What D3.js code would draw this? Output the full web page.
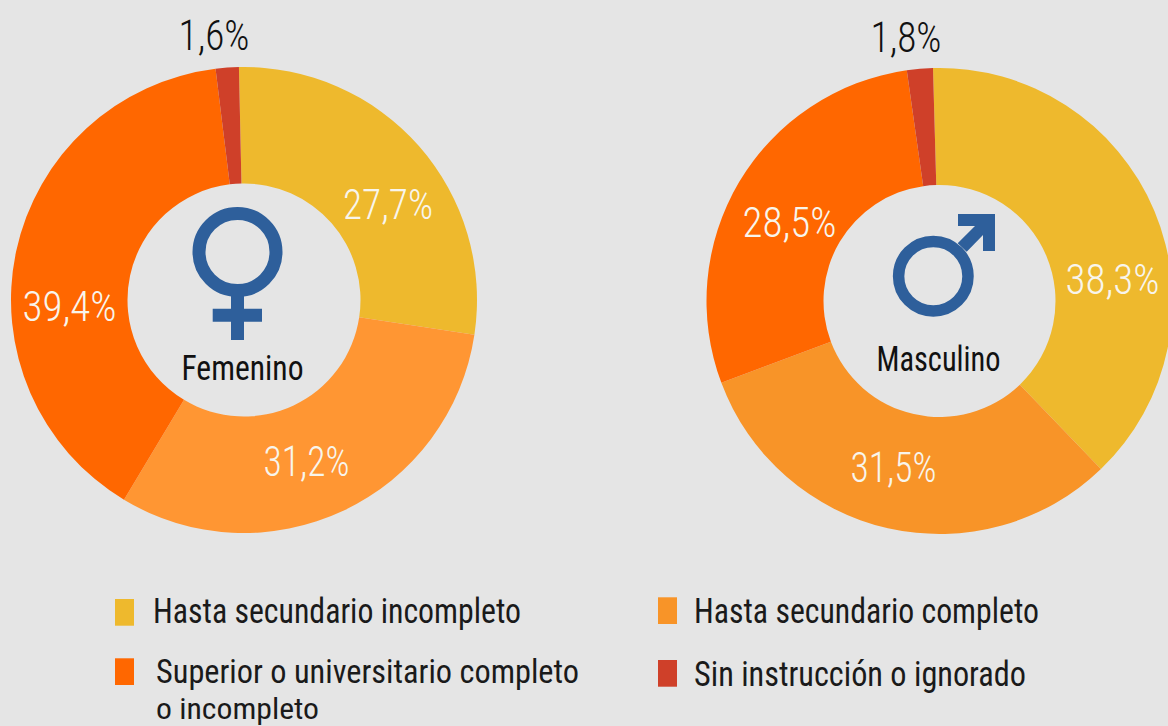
<!DOCTYPE html>
<html><head><meta charset="utf-8"><style>html,body{margin:0;padding:0;background:#e5e5e5;overflow:hidden}svg{display:block}</style>
<script src="https://d3js.org/d3.v7.min.js"></script></head><body><svg id="c" width="1168" height="726"></svg>
<script>
const categories=["Hasta secundario incompleto","Hasta secundario completo","Superior o universitario completo","o incompleto","Sin instrucción o ignorado"];
const femenino=[27.7,31.2,39.4,1.6];
const masculino=[38.3,31.5,28.5,1.8];
const femLabels=["27,7%","31,2%","39,4%","1,6%"];
const masLabels=["38,3%","31,5%","28,5%","1,8%"];
const femColors=["#eeb92d","#ff9633","#ff6700","#cf4029"];
const masColors=["#eeb92d","#f89428","#ff6700","#cf4029"];
const font="'Roboto Condensed','Liberation Sans Narrow','Open Sans',Roboto,sans-serif";
const svg=d3.select("#c");
svg.append("rect").attr("width",1168).attr("height",726).attr("fill","#e5e5e5");
function txt(t,x,y,w,size,weight,fill){
 svg.append("text").attr("x",x).attr("y",y).attr("font-family",font).attr("font-size",size).attr("font-weight",weight)
  .attr("textLength",w).attr("lengthAdjust","spacingAndGlyphs").attr("fill",fill).text(t);
}
function donut(cx,cy,R,r,rot,vals,cols,labs,pos){
 const g=svg.append("g").attr("transform",`translate(${cx},${cy})`);
 const a0=rot*Math.PI/180;
 const pie=d3.pie().sort(null).startAngle(a0).endAngle(a0+2*Math.PI)(vals);
 const arc=d3.arc().innerRadius(r).outerRadius(R);
 g.selectAll("path").data(pie).join("path").attr("d",arc).attr("fill",(d,i)=>cols[i]);
 labs.forEach((l,i)=>txt(l,pos[i][0],pos[i][1],pos[i][2],43,300,i==3?"#111":"#f8f5ec"));
}
donut(244,300,233,116.5,-1.25,femenino,femColors,femLabels,[[343,219,90],[263.5,476,86],[22.5,321,94],[178.5,49.5,71]]);
donut(939.5,301,233,116,-1.6,masculino,masColors,masLabels,[[1065.5,294,94],[850.5,482,86],[742.5,237,94],[870.5,52,71]]);
txt("Femenino",181.5,380,122,35,400,"#111");
txt("Masculino",876.5,370.7,124,35,400,"#111");
const blue="#2e5f9b";
svg.append("circle").attr("cx",237.5).attr("cy",252).attr("r",38.5).attr("fill","none").attr("stroke",blue).attr("stroke-width",13);
svg.append("path").attr("d","M237.5 295V340M212.7 315.3H262").attr("stroke",blue).attr("stroke-width",13).attr("fill","none");
svg.append("circle").attr("cx",933.3).attr("cy",276.2).attr("r",34.7).attr("fill","none").attr("stroke",blue).attr("stroke-width",11.5);
svg.append("path").attr("d","M958 214H995V251H983V235L966.7 251.7L957.7 243.3L975 226H958Z").attr("fill",blue);
[[115,599,"#eeb92d"],[658,597.3,"#f89428"],[115,658.3,"#ff6700"],[658,660,"#cf4029"]].forEach(l=>{
 svg.append("rect").attr("x",l[0]).attr("y",l[1]).attr("width",19).attr("height",26.7).attr("fill",l[2]);
});
txt(categories[0],153,623.3,368,35,400,"#1a1a1a");
txt(categories[1],694,623,345,35,400,"#1a1a1a");
txt(categories[2],156,683,423,32.5,400,"#1a1a1a");
txt(categories[3],156,718.5,163,30,400,"#1a1a1a");
txt(categories[4],694,686,332,35,400,"#1a1a1a");
</script></body></html>
